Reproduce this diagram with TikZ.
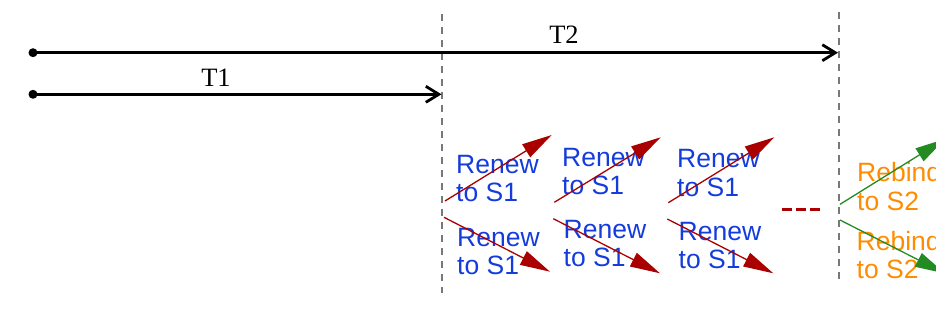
\documentclass[tikz,border=0pt]{standalone}
\usepackage{fontspec}
\setmainfont{Liberation Serif}
\setsansfont{Liberation Sans}
\usetikzlibrary{arrows.meta}
\definecolor{renewred}{RGB}{170,0,0}
\definecolor{labelblue}{RGB}{20,60,220}
\definecolor{rebindorange}{RGB}{255,140,0}
\definecolor{rebindgreen}{RGB}{34,139,34}
\definecolor{guidegray}{RGB}{120,120,120}
\begin{document}
\begin{tikzpicture}[x=1pt,y=-1pt,
  timeline/.style={line width=2.8pt, -{Straight Barb[length=13pt,width=16pt]}},
  dotnode/.style={circle, fill=black, inner sep=0pt, minimum size=9pt},
  guide/.style={guidegray, line width=2.2pt, dash pattern=on 7pt off 6pt},
  renewarrow/.style={renewred, line width=1.3pt, -{Triangle[length=30pt,width=15pt]}},
  rebindarrow/.style={rebindgreen, line width=1.3pt, -{Triangle[length=30pt,width=15pt]}},
  renewlabel/.style={font=\sffamily\fontsize{26.5}{28.5}\selectfont, text=labelblue, align=left, anchor=base west, inner sep=0pt},
  rebindlabel/.style={renewlabel, text=rebindorange},
  tlabel/.style={font=\fontsize{26.5}{30}\selectfont, anchor=base, inner sep=0pt},
  etc/.style={renewred, line width=3pt, dash pattern=on 10pt off 4pt},
]
\useasboundingbox (0,0) rectangle (936,335);
\clip (0,0) rectangle (936,335);

% guides
\coordinate (g1top) at (442,14);
\coordinate (g1bot) at (442,293);
\coordinate (g2top) at (839,12);
\coordinate (g2bot) at (839,285);
\draw[guide] (g1top) -- (g1bot);
\draw[guide] (g2top) -- (g2bot);

% timelines
\node[dotnode] (d2) at (33,52.7) {};
\node[dotnode] (d1) at (33,94.3) {};
\coordinate (e2) at (838,52.7);
\coordinate (e1) at (441.5,94.3);
\draw[timeline] (d2.center) -- (e2);
\draw[timeline] (d1.center) -- (e1);
\node[tlabel] (t2) at (564,43.3) {T2};
\node[tlabel] (t1) at (216,86.7) {T1};

% labels (anchor at baseline of last line)
\node[renewlabel] (r1) at (456,201.5) {Renew\\to S1};
\node[renewlabel] (r2) at (562,194.5) {Renew\\to S1};
\node[renewlabel] (r3) at (677,196) {Renew\\to S1};
\node[renewlabel] (r4) at (457,274.5) {Renew\\to S1};
\node[renewlabel] (r5) at (563.5,266.5) {Renew\\to S1};
\node[renewlabel] (r6) at (678.5,268.5) {Renew\\to S1};
\node[rebindlabel] (b1) at (857,210.2) {Rebind\\to S2};
\node[rebindlabel] (b2) at (856.5,278.5) {Rebind\\to S2};

% renew arrows
\coordinate (u1s) at (445,201);   \coordinate (u1e) at (551.7,135);
\coordinate (u2s) at (554.3,202.3); \coordinate (u2e) at (660.7,137.3);
\coordinate (u3s) at (668.3,202.7); \coordinate (u3e) at (774.3,137.3);
\coordinate (l1s) at (444,217.3); \coordinate (l1e) at (550,271.7);
\coordinate (l2s) at (553.3,218.7); \coordinate (l2e) at (660,273.3);
\coordinate (l3s) at (667.3,219); \coordinate (l3e) at (773.3,273.3);
\draw[renewarrow] (u1s) -- (u1e);
\draw[renewarrow] (u2s) -- (u2e);
\draw[renewarrow] (u3s) -- (u3e);
\draw[renewarrow] (l1s) -- (l1e);
\draw[renewarrow] (l2s) -- (l2e);
\draw[renewarrow] (l3s) -- (l3e);

% ellipsis
\coordinate (es) at (782,209);
\coordinate (ee) at (822,209);
\draw[etc] (es) -- (ee);

% rebind arrows
\coordinate (gu s) at (840,204.3); \coordinate (gu e) at (945,139);
\coordinate (gl s) at (840,220);   \coordinate (gl e) at (945,273.5);
\draw[rebindarrow] (gu s) -- (gu e);
\draw[rebindarrow] (gl s) -- (gl e);
\end{tikzpicture}
\end{document}
